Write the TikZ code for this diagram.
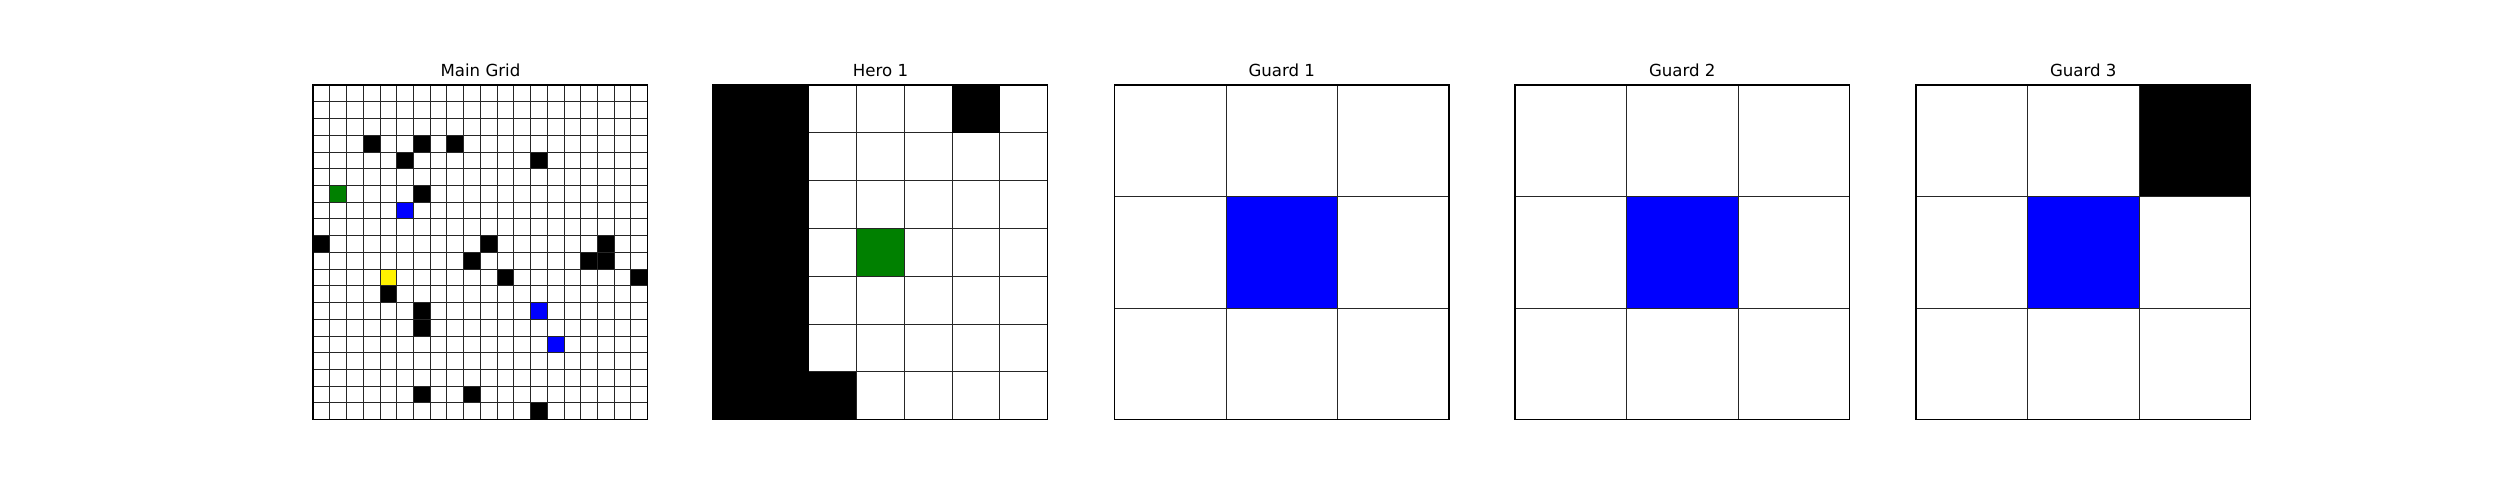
\documentclass[tikz,border=0pt]{standalone}
\usepackage{fontspec}
\setmainfont{DejaVu Sans}
\tikzset{
  cellline/.style={draw=black!85, line width=0.55pt},
  spine/.style={draw=black, line width=0.8pt},
  paneltitle/.style={anchor=base, font=\fontsize{12pt}{14pt}\selectfont, inner sep=0pt},
}
\definecolor{mplgreen}{HTML}{008000}
\newcommand{\cellgrid}[1]{%
  \foreach \i in {0,...,#1} {
    \draw[cellline] (\i,0) -- (\i,#1);
    \draw[cellline] (0,\i) -- (#1,\i);
  }}
\begin{document}
\begin{tikzpicture}[x=0.01in, y=-0.01in]
  \useasboundingbox (0,0) rectangle (2500,500);
  % main grid, 20 x 20
  \begin{scope}[shift={(313,85)}, scale=16.725]
    \foreach \c/\r in {3/3, 6/3, 8/3, 5/4, 13/4, 6/6, 0/9, 10/9, 17/9, 9/10, 16/10, 17/10,
                       11/11, 19/11, 4/12, 6/13, 6/14, 6/18, 9/18, 13/19}
      \fill[black] (\c,\r) rectangle ++(1,1);
    \fill[mplgreen] (1,6) rectangle ++(1,1);
    \fill[blue] (5,7) rectangle ++(1,1);
    \fill[blue] (13,13) rectangle ++(1,1);
    \fill[blue] (14,15) rectangle ++(1,1);
    \fill[yellow] (4,11) rectangle ++(1,1);
    \cellgrid{20}
    \draw[spine] (0,0) rectangle (20,20);
  \end{scope}
  \node[paneltitle] (maintitle) at (480.5,76.5) {Main Grid};
  % hero 1, 7 x 7
  \begin{scope}[shift={(713,85)}, scale=47.786]
    \cellgrid{7}
    \fill[black] (0,0) rectangle (2,7);
    \fill[black] (2,6) rectangle (3,7);
    \fill[black] (5,0) rectangle (6,1);
    \fill[mplgreen] (3,3) rectangle ++(1,1);
    \draw[cellline] (3,3) rectangle ++(1,1);
    \draw[spine] (0,0) rectangle (7,7);
  \end{scope}
  \node[paneltitle] (herotitle) at (880.5,76.5) {Hero 1};
  % guards, 3 x 3
  \foreach \g/\gx in {1/1114.5, 2/1515, 3/1916} {
    \begin{scope}[shift={(\gx,85)}, scale=111.5]
      \fill[blue] (1,1) rectangle ++(1,1);
      \ifnum\g=3 \fill[black] (2,0) rectangle ++(1,1); \fi
      \cellgrid{3}
      \draw[spine] (0,0) rectangle (3,3);
    \end{scope}
  }
  \node[paneltitle] (guardtitlea) at (1281.75,76.5) {Guard 1};
  \node[paneltitle] (guardtitleb) at (1682.25,76.5) {Guard 2};
  \node[paneltitle] (guardtitlec) at (2083.25,76.5) {Guard 3};
\end{tikzpicture}
\end{document}
